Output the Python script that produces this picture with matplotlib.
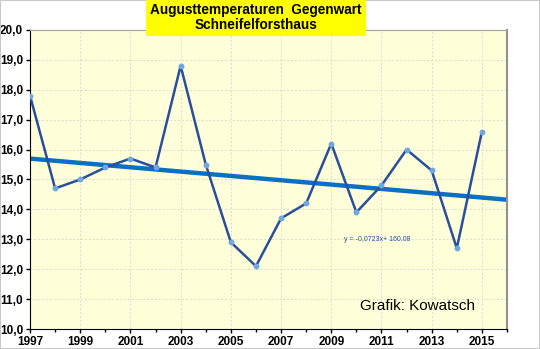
import matplotlib
matplotlib.use("Agg")
import matplotlib.pyplot as plt
from matplotlib.ticker import MultipleLocator, FixedLocator, FuncFormatter
import numpy as np

years = [1997, 1998, 1999, 2000, 2001, 2002, 2003, 2004, 2005, 2006,
         2007, 2008, 2009, 2010, 2011, 2012, 2013, 2014, 2015]
temps = [17.8, 14.7, 15.0, 15.4, 15.7, 15.4, 18.8, 15.5, 12.9, 12.1,
         13.7, 14.2, 16.2, 13.9, 14.8, 16.0, 15.3, 12.7, 16.6]
xtick_years = [1997, 1999, 2001, 2003, 2005, 2007, 2009, 2011, 2013, 2015]
trend_slope = -0.0723
trend_icept = 160.08
title = "Augusttemperaturen  Gegenwart\nSchneifelforsthaus"

plt.rcParams['font.family'] = ['Liberation Sans', 'DejaVu Sans']

fig = plt.figure(figsize=(5.4, 3.49), dpi=100)
ax = fig.add_axes([0.0556, 0.0573, 0.8833, 0.857])
ax.set_facecolor('#FFFFD9')

tx = np.array([1997, 2016])
ax.plot(tx, trend_slope * tx + trend_icept, color='#0A70C4', lw=3.2, zorder=2)
ax.plot(years, temps, color='#2A4E9E', lw=1.8, marker='o', ms=3.2,
        mfc='#6FA8DC', mec='#6FA8DC', zorder=3)

ax.set_xlim(1997, 2016)
ax.set_ylim(10, 20)
ax.xaxis.set_major_locator(FixedLocator(xtick_years))
ax.xaxis.set_minor_locator(MultipleLocator(1))
ax.yaxis.set_major_locator(MultipleLocator(1))
ax.yaxis.set_major_formatter(FuncFormatter(lambda v, p: f"{v:.1f}".replace('.', ',')))
ax.grid(True, which='major', color='#DADAD0', ls=(0, (2, 2)), lw=0.7)
ax.tick_params(axis='both', which='major', direction='out', length=3, width=1,
               labelsize=8.5, pad=2)
ax.tick_params(axis='x', which='minor', direction='out', length=2, width=1)
for lab in ax.get_xticklabels() + ax.get_yticklabels():
    lab.set_fontweight('bold')

ax.spines['left'].set_color('black')
ax.spines['bottom'].set_color('black')
ax.spines['top'].set_color('#A0A0A0')
ax.spines['right'].set_color('#909090')
ax.spines['right'].set_linewidth(1.5)

fig.text(0.474, 0.950, title, ha='center', va='center', fontsize=9.8,
         fontweight='bold', linespacing=1.15,
         bbox=dict(boxstyle='square,pad=0.3', fc='#FFFF00', ec='none'))

ax.text(2009.5, 13.0, "y = -0,0723x+ 160,08", fontsize=5, color='#2A4E9E',
        ha='left', va='center')
ax.text(2012.45, 10.77, "Grafik: Kowatsch", fontsize=11, ha='center',
        va='center')

fig.patches.append(plt.Rectangle((0, 0), 1, 1, transform=fig.transFigure,
                                 fill=False, ec='#C8C8C8', lw=1.5))

fig.savefig('out.png', dpi=100)
